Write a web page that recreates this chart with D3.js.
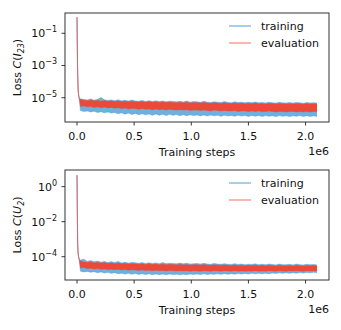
<!DOCTYPE html>
<html>
<head>
<meta charset="utf-8">
<script src="https://cdn.jsdelivr.net/npm/d3@7"></script>
<style>
  body { margin: 0; background: #fff; }
  svg { display: block; font-family: 'DejaVu Sans', sans-serif; }
</style>
</head>
<body>
<div id="chart"></div>
<script>
// training steps, in units of 1e6
const spikeSteps = [0, 0.003, 0.006, 0.01, 0.015, 0.02];
const bandSteps = [0.03, 0.06, 0.09, 0.12, 0.15, 0.18, 0.21, 0.24, 0.27, 0.30,
  0.33, 0.36, 0.39, 0.42, 0.45, 0.48, 0.51, 0.54, 0.57, 0.60,
  0.63, 0.66, 0.69, 0.72, 0.75, 0.78, 0.81, 0.84, 0.87, 0.90,
  0.93, 0.96, 0.99, 1.02, 1.05, 1.08, 1.11, 1.14, 1.17, 1.20,
  1.23, 1.26, 1.29, 1.32, 1.35, 1.38, 1.41, 1.44, 1.47, 1.50,
  1.53, 1.56, 1.59, 1.62, 1.65, 1.68, 1.71, 1.74, 1.77, 1.80,
  1.83, 1.86, 1.89, 1.92, 1.95, 1.98, 2.01, 2.04, 2.07, 2.10];

// C(I_23): initial drop (absolute), then noise band (units of 1e-6)
const i23Spike = [1.0, 1e-2, 3e-4, 3e-5, 1.3e-5, 9e-6];
const i23Unit = 1e-6;
const i23TrainHi = [8.5,7.8,7.3,8.4,7.0,7.9,10.2,7.4,6.8,7.2, 6.5,7.4,6.3,6.9,6.2,7.1,6.3,6.0,6.8,5.9,
  6.5,5.8,6.4,5.7,6.2,5.6,6.1,5.9,5.5,6.0, 5.4,6.2,5.3,5.7,5.6,5.2,6.0,5.3,5.1,5.6,
  5.3,5.0,5.7,5.1,4.9,5.5,5.0,5.3,4.8,5.2, 4.9,5.4,4.8,5.1,4.7,5.3,4.9,4.6,5.2,4.8,
  4.7,5.0,4.6,5.1,4.8,4.5,5.0,4.7,4.9,4.6];
const i23TrainLo = [1.6,1.4,1.5,1.3,1.45,1.2,1.35,1.15,1.3,1.1, 1.2,1.0,1.15,0.95,1.1,0.9,1.05,0.88,1.0,0.86,
  0.98,0.82,0.97,0.8,0.95,0.78,0.93,0.8,0.9,0.76, 0.88,0.75,0.86,0.77,0.84,0.74,0.85,0.72,0.83,0.75,
  0.8,0.7,0.82,0.73,0.79,0.7,0.8,0.72,0.78,0.69, 0.79,0.71,0.77,0.68,0.78,0.7,0.76,0.67,0.77,0.7,
  0.76,0.68,0.75,0.7,0.77,0.67,0.76,0.69,0.75,0.68];
const i23EvalHi = [7.6,7.0,6.5,7.2,6.3,6.8,6.1,6.6,6.0,6.4, 5.8,6.3,5.7,6.1,5.5,6.0,5.6,5.4,5.9,5.3,
  5.7,5.2,5.6,5.1,5.5,5.0,5.4,5.1,4.9,5.3, 4.8,5.2,4.7,5.0,4.9,4.6,5.1,4.7,4.5,4.9,
  4.6,4.4,4.8,4.5,4.3,4.7,4.4,4.6,4.2,4.5, 4.3,4.6,4.2,4.4,4.1,4.5,4.3,4.0,4.4,4.2,
  4.1,4.3,4.0,4.4,4.2,3.9,4.3,4.1,4.2,4.0];
const i23EvalLo = [2.9,3.1,2.7,2.8,2.5,2.7,2.4,2.6,2.3,2.5, 2.2,2.4,2.1,2.3,2.0,2.2,2.1,1.9,2.1,1.9,
  2.0,1.8,2.0,1.8,1.9,1.7,1.9,1.8,1.7,1.8, 1.7,1.8,1.6,1.7,1.7,1.6,1.7,1.6,1.5,1.7,
  1.6,1.5,1.6,1.5,1.5,1.6,1.4,1.5,1.5,1.4, 1.5,1.4,1.5,1.4,1.4,1.5,1.4,1.3,1.4,1.4,
  1.3,1.4,1.4,1.3,1.4,1.3,1.4,1.3,1.4,1.4];

// C(U_2): initial drop (absolute), then noise band (units of 1e-5)
const u2Spike = [4.5, 3e-2, 5e-4, 1.5e-4, 9e-5, 7e-5];
const u2Unit = 1e-5;
const u2TrainHi = [6.4,7.2,5.4,6.0,5.1,5.6,4.9,5.3,4.7,5.2, 4.6,5.3,4.4,4.8,4.3,4.7,4.5,4.2,4.6,4.1,
  4.5,4.1,4.4,4.0,4.6,4.0,4.2,4.1,3.9,4.3, 3.9,4.2,3.8,4.0,4.1,3.8,4.2,3.8,3.7,4.1,
  3.8,3.7,4.0,3.7,3.6,4.0,3.6,3.8,3.5,3.7, 3.6,3.9,3.5,3.7,3.5,3.8,3.6,3.4,3.8,3.5,
  3.5,3.7,3.4,3.8,3.5,3.4,3.7,3.5,3.6,3.4];
const u2TrainLo = [1.5,1.35,1.45,1.3,1.4,1.22,1.35,1.18,1.28,1.12, 1.2,1.08,1.15,1.02,1.12,1.0,1.1,0.97,1.06,0.95,
  1.05,0.94,1.04,0.93,1.02,0.92,1.03,0.95,1.0,0.93, 1.0,0.94,1.02,0.95,1.03,0.96,1.05,0.97,1.04,0.99,
  1.06,0.98,1.08,1.0,1.07,1.01,1.1,1.02,1.1,1.04, 1.12,1.05,1.14,1.06,1.15,1.08,1.17,1.1,1.2,1.12,
  1.2,1.13,1.22,1.15,1.25,1.17,1.27,1.2,1.3,1.22];
const u2EvalHi = [5.6,5.0,4.6,5.1,4.4,4.8,4.3,4.6,4.1,4.5, 4.0,4.4,3.9,4.2,3.8,4.1,3.9,3.7,4.0,3.6,
  3.9,3.6,3.8,3.5,3.8,3.5,3.7,3.6,3.4,3.7, 3.4,3.6,3.3,3.5,3.5,3.3,3.6,3.3,3.2,3.5,
  3.3,3.2,3.4,3.2,3.1,3.4,3.1,3.3,3.0,3.2, 3.1,3.3,3.0,3.2,3.0,3.2,3.1,2.9,3.2,3.0,
  3.0,3.1,2.9,3.2,3.0,2.9,3.1,3.0,3.1,2.9];
const u2EvalLo = [2.3,2.4,2.1,2.2,2.0,2.1,1.9,2.0,1.85,1.95, 1.8,1.9,1.75,1.85,1.7,1.8,1.75,1.65,1.75,1.65,
  1.7,1.6,1.7,1.6,1.65,1.55,1.65,1.6,1.55,1.6, 1.55,1.6,1.5,1.6,1.55,1.5,1.6,1.55,1.5,1.6,
  1.55,1.5,1.6,1.55,1.5,1.6,1.5,1.55,1.5,1.55, 1.5,1.6,1.5,1.55,1.5,1.6,1.55,1.5,1.6,1.55,
  1.5,1.6,1.55,1.6,1.55,1.5,1.6,1.55,1.6,1.55];

const xTicks = [0, 0.5, 1.0, 1.5, 2.0];
const seriesNames = ['training', 'evaluation'];

const width = 341;
const height = 330;
const colors = { training: '#3f95d3', evaluation: '#f3432e' };
const legendColors = { training: '#4f9fd6', evaluation: '#f9a59b' };

const svg = d3.select('#chart').append('svg')
  .attr('width', width)
  .attr('height', height);

function buildSeries(spike, unit, hi, lo) {
  const pts = spikeSteps.map((s, i) => ({ x: s, hi: spike[i], lo: spike[i] }));
  return pts.concat(bandSteps.map((s, i) => ({ x: s, hi: hi[i] * unit, lo: lo[i] * unit })));
}

function drawPanel(opts) {
  const { top, bottom, yDomain, yTicks, labelVar, labelSub, training, evaluation } = opts;
  const left = 65;
  const right = 329;
  const g = svg.append('g');

  const x = d3.scaleLinear().domain([-0.105, 2.205]).range([left, right]);
  const y = d3.scaleLog().domain(yDomain).range([bottom, top]);

  const clipId = 'clip' + top;
  svg.append('clipPath').attr('id', clipId)
    .append('rect').attr('x', left).attr('y', top).attr('width', right - left).attr('height', bottom - top);

  const plot = g.append('g').attr('clip-path', `url(#${clipId})`);
  const area = d3.area().x(d => x(d.x)).y0(d => y(d.lo)).y1(d => y(d.hi));
  const hiLine = d3.line().x(d => x(d.x)).y(d => y(d.hi));
  const loLine = d3.line().x(d => x(d.x)).y(d => y(d.lo));

  [['training', training, 0.75], ['evaluation', evaluation, 0.95]].forEach(([name, data, op]) => {
    plot.append('path').attr('d', area(data))
      .attr('fill', colors[name]).attr('fill-opacity', op);
    plot.append('path').attr('d', hiLine(data))
      .attr('fill', 'none').attr('stroke', colors[name]).attr('stroke-opacity', 0.6).attr('stroke-width', 0.7);
    plot.append('path').attr('d', loLine(data))
      .attr('fill', 'none').attr('stroke', colors[name]).attr('stroke-opacity', 0.6).attr('stroke-width', 0.7);
  });

  // frame
  g.append('rect')
    .attr('x', left).attr('y', top)
    .attr('width', right - left).attr('height', bottom - top)
    .attr('fill', 'none').attr('stroke', '#333').attr('stroke-width', 1);

  // x ticks
  const xt = g.append('g');
  xTicks.forEach(t => {
    xt.append('line').attr('x1', x(t)).attr('x2', x(t)).attr('y1', bottom).attr('y2', bottom + 3.5)
      .attr('stroke', '#222').attr('stroke-width', 0.9);
    xt.append('text').attr('x', x(t)).attr('y', bottom + 18)
      .attr('text-anchor', 'middle').attr('font-size', 11).attr('fill', '#111')
      .text(t.toFixed(1));
  });
  g.append('text').attr('x', (left + right) / 2).attr('y', bottom + 34)
    .attr('text-anchor', 'middle').attr('font-size', 11).attr('fill', '#111')
    .text('Training steps');
  g.append('text').attr('x', right).attr('y', bottom + 33)
    .attr('text-anchor', 'end').attr('font-size', 11).attr('fill', '#111')
    .text('1e6');

  // y ticks
  yTicks.forEach(e => {
    const yy = y(Math.pow(10, e));
    g.append('line').attr('x1', left - 3.5).attr('x2', left).attr('y1', yy).attr('y2', yy)
      .attr('stroke', '#222').attr('stroke-width', 0.9);
    const txt = g.append('text').attr('x', left - 8).attr('y', yy + 4)
      .attr('text-anchor', 'end').attr('font-size', 11).attr('fill', '#111');
    txt.append('tspan').text('10');
    txt.append('tspan').attr('font-size', 8).attr('dy', -5)
      .text(e < 0 ? '\u2212' + Math.abs(e) : String(e));
  });

  // y label
  const cy = (top + bottom) / 2;
  const yl = g.append('text').attr('transform', `translate(21, ${cy}) rotate(-90)`)
    .attr('text-anchor', 'middle').attr('font-size', 11).attr('fill', '#111');
  yl.append('tspan').text('Loss ');
  yl.append('tspan').attr('font-style', 'italic').text('C');
  yl.append('tspan').text('(');
  yl.append('tspan').attr('font-style', 'italic').text(labelVar);
  yl.append('tspan').attr('font-size', 8).attr('dy', 3).attr('font-style', 'italic').text(labelSub);
  yl.append('tspan').attr('dy', -3).text(')');

  // legend
  seriesNames.forEach((name, i) => {
    const ly = top + 13 + i * 17;
    g.append('line').attr('x1', 229).attr('x2', 251).attr('y1', ly).attr('y2', ly)
      .attr('stroke', legendColors[name]).attr('stroke-width', name === 'evaluation' ? 1.6 : 1);
    g.append('text').attr('x', 261).attr('y', ly + 4)
      .attr('font-size', 11).attr('fill', '#111').text(name);
  });
}

drawPanel({
  top: 13, bottom: 122,
  yDomain: [Math.pow(10, -6.51), Math.pow(10, 0.26)],
  yTicks: [-1, -3, -5],
  labelVar: 'I', labelSub: '23',
  training: buildSeries(i23Spike, i23Unit, i23TrainHi, i23TrainLo),
  evaluation: buildSeries(i23Spike, i23Unit, i23EvalHi, i23EvalLo),
});

drawPanel({
  top: 170, bottom: 280,
  yDomain: [Math.pow(10, -5.33), Math.pow(10, 0.95)],
  yTicks: [0, -2, -4],
  labelVar: 'U', labelSub: '2',
  training: buildSeries(u2Spike, u2Unit, u2TrainHi, u2TrainLo),
  evaluation: buildSeries(u2Spike, u2Unit, u2EvalHi, u2EvalLo),
});
</script>
</body>
</html>
